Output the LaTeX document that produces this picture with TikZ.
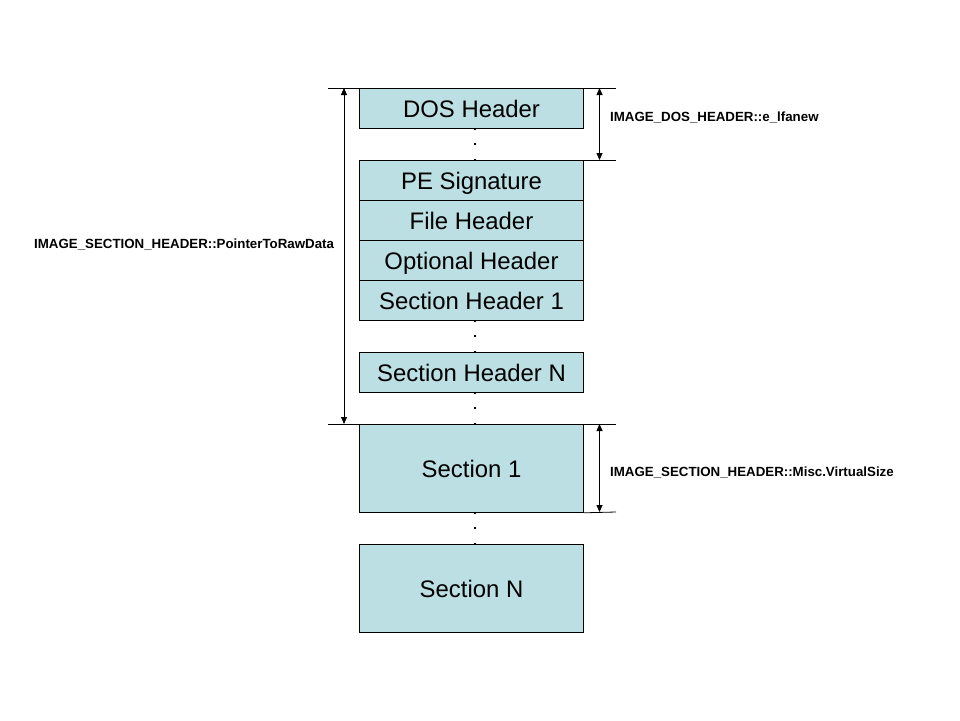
\documentclass[tikz,border=0pt]{standalone}
\usepackage{fontspec}
\setmainfont{Liberation Sans}
\usetikzlibrary{arrows.meta,calc}
\definecolor{boxfill}{RGB}{187,223,226}
\begin{document}
\begin{tikzpicture}[x=1pt,y=-1pt,
  blk/.style={draw=black, line width=0.8pt, fill=boxfill, minimum width=224pt, inner sep=0pt,
     font=\fontsize{23.9}{26}\selectfont, text height=17.2pt, text depth=0pt, anchor=north},
  hdr/.style={blk, minimum height=40pt},
  sec/.style={blk, minimum height=88pt},
  lbl/.style={font=\fontsize{13.3}{15}\selectfont\bfseries, inner sep=0pt},
  guide/.style={draw=black, line width=0.8pt},
  dim/.style={draw=black, line width=0.8pt, {Triangle[width=6pt,length=7pt]}-{Triangle[width=6pt,length=7pt]}},
  dotm/.style={fill=black, minimum size=2pt, inner sep=0pt, shape=rectangle}
]
\useasboundingbox (0,0) rectangle (960,720);
\fill[white] (0,0) rectangle (960,720);

\node[hdr] (dos) at (471.5,88) {DOS Header};
\node[hdr] (pe) at (471.5,160) {PE Signature};
\node[hdr] (fh) at (471.5,200) {File Header};
\node[hdr] (oh) at (471.5,240) {Optional Header};
\node[hdr] (sh1) at (471.5,280) {Section Header 1};
\node[hdr] (shn) at (471.5,352) {Section Header N};
\node[sec] (s1) at (471.5,424) {Section 1};
\node[sec] (sn) at (471.5,544) {Section N};

% dotted gaps
\foreach \a/\b in {dos/pe, sh1/shn, shn/s1, s1/sn}{
  \node[dotm] at ([xshift=3.5pt]\a.south) {};
  \node[dotm] at ($([xshift=3.5pt]\a.south)!0.5!([xshift=3.5pt]\b.north)$) {};
  \node[dotm] at ([xshift=3.5pt]\b.north) {};
}

% guide lines
\coordinate (tL) at (328,88);
\coordinate (tR) at (616,88);
\coordinate (peR) at (616,160);
\coordinate (sL) at (328,424);
\coordinate (sR) at (616,424);
\coordinate (s1R) at (616,512);
\draw[guide] (tL) -- (tR);
\draw[guide] (pe.north east) -- (peR);
\draw[guide] (sL) -- (sR);
\draw[guide] (s1.south east) -- (s1R);

% dimension arrows
\coordinate (a1) at (344,88);
\coordinate (a2) at (344,424);
\draw[dim] (a1) -- (a2);
\coordinate (b1) at (599.5,88);
\coordinate (b2) at (599.5,160);
\draw[dim] (b1) -- (b2);
\coordinate (c1) at (599.5,424);
\coordinate (c2) at (599.5,512);
\draw[dim] (c1) -- (c2);

\node[lbl, anchor=west] (l1) at (34,244) {IMAGE\_SECTION\_HEADER::PointerToRawData};
\node[lbl, anchor=west] (l2) at (610,117) {IMAGE\_DOS\_HEADER::e\_lfanew};
\node[lbl, anchor=west] (l3) at (610,472) {IMAGE\_SECTION\_HEADER::Misc.VirtualSize};
\end{tikzpicture}
\end{document}
